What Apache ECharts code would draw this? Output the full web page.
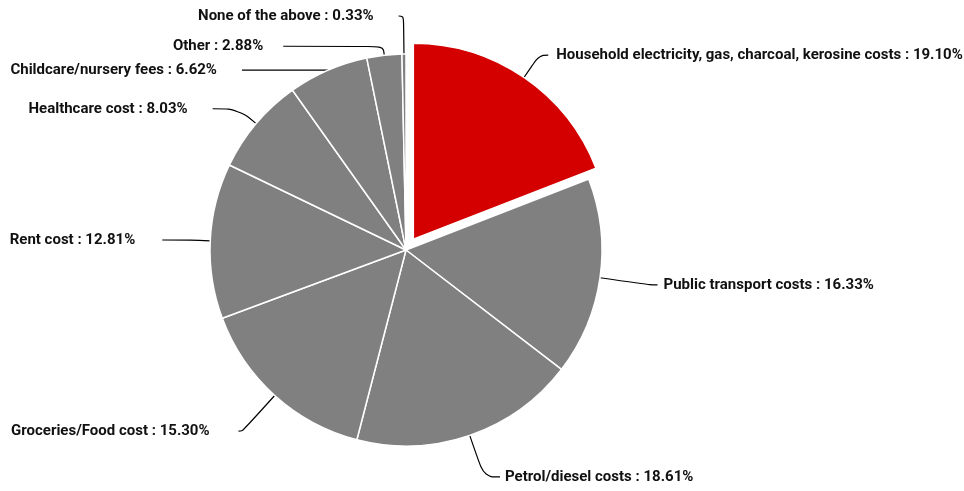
<!DOCTYPE html>
<html>
<head>
<meta charset="utf-8">
<script src="https://cdn.jsdelivr.net/npm/echarts@6/dist/echarts.min.js"></script>
<style>
html,body{margin:0;padding:0;background:#fff;}
#chart{width:964px;height:491px;}
</style>
</head>
<body>
<div id="chart"></div>
<script>
const categories = [
  'Household electricity, gas, charcoal, kerosine costs',
  'Public transport costs',
  'Petrol/diesel costs',
  'Groceries/Food cost',
  'Rent cost',
  'Healthcare cost',
  'Childcare/nursery fees',
  'Other',
  'None of the above'
];
const values = [19.10, 16.33, 18.61, 15.30, 12.81, 8.03, 6.62, 2.88, 0.33];
const highlighted = [true, false, false, false, false, false, false, false, false];

// label guide-line styling per slice: [length, length2, distance]
const guideStyle = [
  [27, 9, 8],
  [50, 8, 6],
  [44, 16, 5],
  [48, 4, 29],
  [20, 28, 27],
  [23, 26, 25],
  [0, 86, 25],
  [9, 100, 20],
  [38, 5, 25]
];

const RED = '#d40000';
const GREY = '#808080';

const data = categories.map((name, i) => ({
  name: name,
  value: values[i],
  selected: highlighted[i],
  itemStyle: { color: highlighted[i] ? RED : GREY },
  labelLine: { length: guideStyle[i][0], length2: guideStyle[i][1] },
  label: { distanceToLabelLine: guideStyle[i][2] }
}));

const chart = echarts.init(document.getElementById('chart'), null, { renderer: 'canvas' });
chart.setOption({
  animation: false,
  backgroundColor: '#ffffff',
  series: [{
    type: 'pie',
    center: [406, 250],
    radius: 196,
    startAngle: 90,
    clockwise: true,
    selectedMode: 'single',
    selectedOffset: 13,
    avoidLabelOverlap: false,
    emphasis: { disabled: true },
    itemStyle: { borderColor: '#ffffff', borderWidth: 1.5 },
    label: {
      show: true,
      position: 'outside',
      color: '#111111',
      fontFamily: 'Roboto, "Liberation Sans", sans-serif',
      fontWeight: 'bold',
      fontSize: 15,
      formatter: p => p.name + ' : ' + p.value.toFixed(2) + '%'
    },
    labelLine: {
      show: true,
      smooth: 0.4,
      lineStyle: { color: '#000000', width: 1.2 }
    },
    data: data
  }]
});
</script>
</body>
</html>
